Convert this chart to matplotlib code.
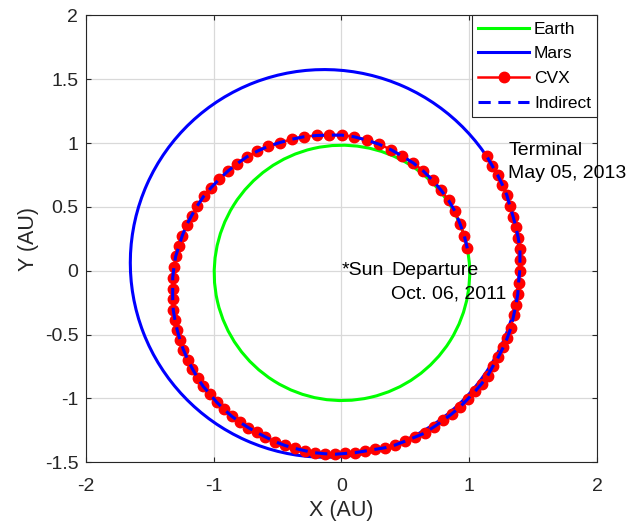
import matplotlib
matplotlib.use("Agg")
import matplotlib.pyplot as plt
from matplotlib.patches import Ellipse
from matplotlib.lines import Line2D
import numpy as np

plt.rcParams["font.family"] = ["Liberation Sans", "DejaVu Sans"]
plt.rcParams["axes.unicode_minus"] = False

# ── Planet orbits (Keplerian elements, Sun at the focus) ─────────────────────
# semi-major axis (AU), eccentricity, longitude of perihelion (deg)
earth_a, earth_e, earth_w = 1.000, 0.0167, 102.9
mars_a, mars_e, mars_w = 1.524, 0.0934, 336.0

# ── Transfer trajectory nodes (AU), departure -> terminal ────────────────────
cvx_x = [
    0.985, 0.961, 0.928, 0.888, 0.839, 0.781, 0.714, 0.640, 0.562, 0.476,
    0.385, 0.294, 0.197, 0.098, 0.002, -0.096, -0.194, -0.294, -0.387, -0.481,
    -0.573, -0.659, -0.742, -0.816, -0.888, -0.956, -1.021, -1.079, -1.129, -1.173,
    -1.212, -1.246, -1.272, -1.298, -1.311, -1.321, -1.321, -1.321, -1.317, -1.303,
    -1.285, -1.264, -1.238, -1.204, -1.168, -1.126, -1.082, -1.029, -0.977, -0.920,
    -0.860, -0.795, -0.730, -0.664, -0.595, -0.520, -0.443, -0.365, -0.288, -0.210,
    -0.130, -0.050, 0.027, 0.106, 0.184, 0.262, 0.341, 0.419, 0.497, 0.575,
    0.654, 0.727, 0.797, 0.863, 0.928, 0.988, 1.045, 1.097, 1.144, 1.188,
    1.228, 1.267, 1.298, 1.327, 1.348, 1.366, 1.380, 1.386, 1.395, 1.397,
    1.397, 1.384, 1.366, 1.345, 1.319, 1.295, 1.259, 1.223, 1.181, 1.137,
]
cvx_y = [
    0.176, 0.276, 0.368, 0.467, 0.551, 0.630, 0.709, 0.782, 0.845, 0.898,
    0.950, 0.992, 1.024, 1.050, 1.063, 1.063, 1.060, 1.050, 1.031, 1.005,
    0.976, 0.937, 0.892, 0.840, 0.782, 0.719, 0.651, 0.583, 0.509, 0.433,
    0.360, 0.276, 0.194, 0.113, 0.031, -0.053, -0.139, -0.223, -0.307, -0.388,
    -0.467, -0.543, -0.617, -0.695, -0.766, -0.840, -0.906, -0.966, -1.029, -1.084,
    -1.139, -1.186, -1.228, -1.265, -1.302, -1.338, -1.368, -1.391, -1.409, -1.425,
    -1.433, -1.437, -1.431, -1.425, -1.412, -1.399, -1.386, -1.365, -1.335, -1.303,
    -1.270, -1.220, -1.171, -1.121, -1.066, -1.005, -0.945, -0.885, -0.822, -0.743,
    -0.675, -0.598, -0.525, -0.446, -0.350, -0.264, -0.185, -0.098, -0.005, 0.082,
    0.171, 0.257, 0.341, 0.420, 0.506, 0.591, 0.675, 0.748, 0.821, 0.898,
]
# indirect-method solution lands on the same nodes
indirect_x = cvx_x
indirect_y = cvx_y

x_ticks = [-2, -1, 0, 1, 2]
y_ticks = [-1.5, -1, -0.5, 0, 0.5, 1, 1.5, 2]
y_tick_labels = ["-1.5", "-1", "-0.5", "0", "0.5", "1", "1.5", "2"]


def orbit_patch(a, e, w_deg, color):
    b = a * np.sqrt(1 - e ** 2)
    w = np.radians(w_deg)
    center = (-a * e * np.cos(w), -a * e * np.sin(w))
    return Ellipse(center, 2 * a, 2 * b, angle=w_deg, fill=False,
                   edgecolor=color, linewidth=2.2, zorder=2)


fig = plt.figure(figsize=(6.35, 5.29), dpi=100)
ax = fig.add_axes([0.1354, 0.1261, 0.8047, 0.8446])

ax.add_patch(orbit_patch(earth_a, earth_e, earth_w, "#00ff00"))
ax.add_patch(orbit_patch(mars_a, mars_e, mars_w, "#0000ff"))
ax.plot(cvx_x, cvx_y, color="#ff0000", linewidth=1.8, marker="o",
        markersize=7.5, zorder=3)
ax.plot(indirect_x, indirect_y, color="#0000ff", linewidth=2.2,
        linestyle=(0, (4, 2.5)), zorder=4)

ax.text(0, 0, "*Sun", fontsize=14, ha="left", va="center")
ax.text(0.39, -0.09, "Departure\nOct. 06, 2011", fontsize=14,
        ha="left", va="center", linespacing=1.45)
ax.text(1.305, 0.85, "Terminal\nMay 05, 2013", fontsize=14,
        ha="left", va="center", linespacing=1.45)

handles = [
    Line2D([], [], color="#00ff00", linewidth=2.2),
    Line2D([], [], color="#0000ff", linewidth=2.2),
    Line2D([], [], color="#ff0000", linewidth=1.8, marker="o", markersize=7.5),
    Line2D([], [], color="#0000ff", linewidth=2.2, linestyle=(0, (4, 2.5))),
]
leg = ax.legend(handles, ["Earth", "Mars", "CVX", "Indirect"], loc="upper right",
                bbox_to_anchor=(1, 1), borderaxespad=0, fontsize=12.5,
                numpoints=1, handlelength=2.9, handletextpad=0.3,
                labelspacing=0.55, borderpad=0.35, fancybox=False,
                framealpha=1, edgecolor="#262626")
leg.get_frame().set_linewidth(0.8)

ax.set_xlim(-2, 2)
ax.set_ylim(-1.5, 2)
ax.set_xticks(x_ticks)
ax.set_xticklabels([str(t) for t in x_ticks])
ax.set_yticks(y_ticks)
ax.set_yticklabels(y_tick_labels)
ax.tick_params(direction="in", length=3.5, width=0.8, top=True, right=True,
               labelsize=14, colors="#262626")
ax.tick_params(axis="x", pad=11)
ax.tick_params(axis="y", pad=5.5)
ax.set_xlabel("X (AU)", fontsize=15.5, color="#262626", labelpad=4)
ax.set_ylabel("Y (AU)", fontsize=15.5, color="#262626", labelpad=4)
ax.grid(True, color="#d9d9d9", linewidth=0.9)
ax.set_axisbelow(True)
for s in ax.spines.values():
    s.set_color("#262626")
    s.set_linewidth(0.8)

fig.savefig("out.png", dpi=100)
